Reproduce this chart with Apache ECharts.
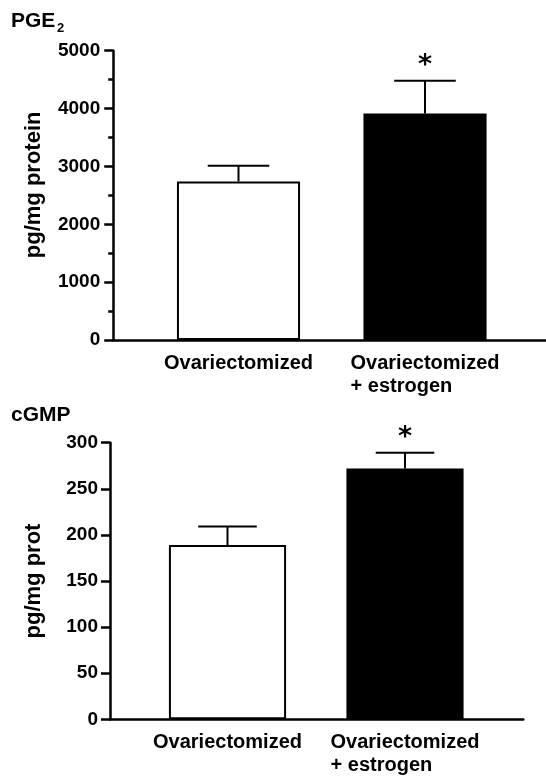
<!DOCTYPE html>
<html><head><meta charset="utf-8">
<script src="https://cdn.jsdelivr.net/npm/echarts@6/dist/echarts.min.js"></script>
<style>html,body{margin:0;padding:0;background:#fff}#c{width:546px;height:776px}</style>
</head><body><div id="c"></div>
<script>
// ---- data ----
const categories = ['Ovariectomized', 'Ovariectomized\n+ estrogen'];
const pgeMean = [2740, 3915];
const pgeSem = [270, 565];
const pgeSig = ['', '*'];
const cgmpMean = [189, 272];
const cgmpSem = [20, 17];
const cgmpSig = ['', '*'];
const pgeAxis = { min: 0, max: 5000, step: 1000 };
const cgmpAxis = { min: 0, max: 300, step: 50 };
const barColors = ['#ffffff', '#000000'];

// ---- chart ----
const FONT = '"Liberation Sans", Arial, Helvetica, sans-serif';
const chart = echarts.init(document.getElementById('c'), null, { renderer: 'canvas' });

function catLabel(v) {
  return v.split('\n').map(p => '{a|' + p + '}').join('\n');
}
const catRich = { a: { align: 'left', fontSize: 20, fontWeight: 'bold', fontFamily: FONT, color: '#000', lineHeight: 23 } };

function errRender(sig) {
  return function (params, api) {
    const i = api.value(0), m = api.value(1), t = api.value(2);
    const p0 = api.coord([i, m]), p1 = api.coord([i, t]);
    const half = api.size([1, 0])[0] * 0.165;
    const ch = [
      { type: 'line', shape: { x1: p0[0], y1: p0[1], x2: p1[0], y2: p1[1] }, style: { stroke: '#000', lineWidth: 2 } },
      { type: 'line', shape: { x1: p1[0] - half, y1: p1[1], x2: p1[0] + half, y2: p1[1] }, style: { stroke: '#000', lineWidth: 2 } }
    ];
    const s = sig[params.dataIndex];
    if (s) ch.push({ type: 'text', x: p1[0], y: p1[1] - 15, style: { text: s, fill: '#000', font: 'bold 27px "DejaVu Sans", sans-serif', align: 'center', verticalAlign: 'middle' } });
    return { type: 'group', children: ch };
  };
}

function yAxisCfg(grid, ax, offset, name, gap, margin, minor, padLeft) {
  return {
    gridIndex: grid, type: 'value', min: ax.min, max: ax.max, interval: ax.step, offset: offset,
    axisLine: { show: true, lineStyle: { color: '#000', width: 2.5 } },
    axisTick: { show: true, length: 9, lineStyle: { color: '#000', width: 2.5 } },
    minorTick: { show: minor, splitNumber: 2, length: 5, lineStyle: { color: '#000', width: 2.5 } },
    splitLine: { show: false }, minorSplitLine: { show: false },
    axisLabel: { margin: margin, color: '#000', fontSize: 19, fontWeight: 'bold', fontFamily: FONT, formatter: v => String(v) },
    name: name, nameLocation: 'middle', nameGap: gap, nameRotate: 90,
    nameTextStyle: { fontSize: 22, fontWeight: 'bold', fontFamily: FONT, color: '#000', padding: [0, 0, 0, padLeft] }
  };
}
function xAxisCfg(grid) {
  return {
    gridIndex: grid, type: 'category', data: categories,
    axisLine: { show: false }, axisTick: { show: false },
    axisLabel: { margin: 12, formatter: catLabel, rich: catRich, interval: 0 }
  };
}
function lineX(grid) {
  return { gridIndex: grid, type: 'category', data: [''], axisLine: { show: true, lineStyle: { color: '#000', width: 2.5 } }, axisTick: { show: false }, axisLabel: { show: false } };
}
function lineY(grid) { return { gridIndex: grid, type: 'value', show: false }; }

function barSeries(xi, mean) {
  return {
    type: 'bar', xAxisIndex: xi, yAxisIndex: xi, barWidth: '66%', z: 2,
    data: mean.map((v, i) => ({ value: v, itemStyle: { color: barColors[i], borderColor: '#000', borderWidth: 2 } }))
  };
}
function errSeries(xi, mean, sem, sig) {
  return {
    type: 'custom', xAxisIndex: xi, yAxisIndex: xi, z: 5,
    renderItem: errRender(sig),
    data: mean.map((v, i) => [i, v, v + sem[i]])
  };
}

const option = {
  animation: false,
  backgroundColor: '#fff',
  title: [
    { text: 'PGE', left: 11, top: 11, padding: 0, textStyle: { fontSize: 21, fontWeight: 'bold', fontFamily: FONT, color: '#000' } },
    { text: '2', left: 57, top: 22, padding: 0, textStyle: { fontSize: 13, fontWeight: 'bold', fontFamily: FONT, color: '#000' } },
    { text: 'cGMP', left: 11, top: 405, padding: 0, textStyle: { fontSize: 21, fontWeight: 'bold', fontFamily: FONT, color: '#000' } }
  ],
  grid: [
    { left: 145.25, right: 27.75, top: 50.7, bottom: 436, containLabel: false },
    { left: 113.3, right: 0, top: 50.7, bottom: 436, containLabel: false },
    { left: 138.75, right: 52.25, top: 442.7, bottom: 56.7, containLabel: false },
    { left: 110, right: 22.7, top: 442.7, bottom: 56.7, containLabel: false }
  ],
  xAxis: [xAxisCfg(0), lineX(1), xAxisCfg(2), lineX(3)],
  yAxis: [
    yAxisCfg(0, pgeAxis, 32, 'pg/mg protein', 68, 13, true, 21),
    lineY(1),
    yAxisCfg(2, cgmpAxis, 28.75, 'pg/mg prot', 65, 12, false, 0),
    lineY(3)
  ],
  series: [
    barSeries(0, pgeMean),
    errSeries(0, pgeMean, pgeSem, pgeSig),
    Object.assign(barSeries(2, cgmpMean), { xAxisIndex: 2, yAxisIndex: 2 }),
    Object.assign(errSeries(2, cgmpMean, cgmpSem, cgmpSig), { xAxisIndex: 2, yAxisIndex: 2 })
  ]
};
chart.setOption(option);
</script>
</body></html>
